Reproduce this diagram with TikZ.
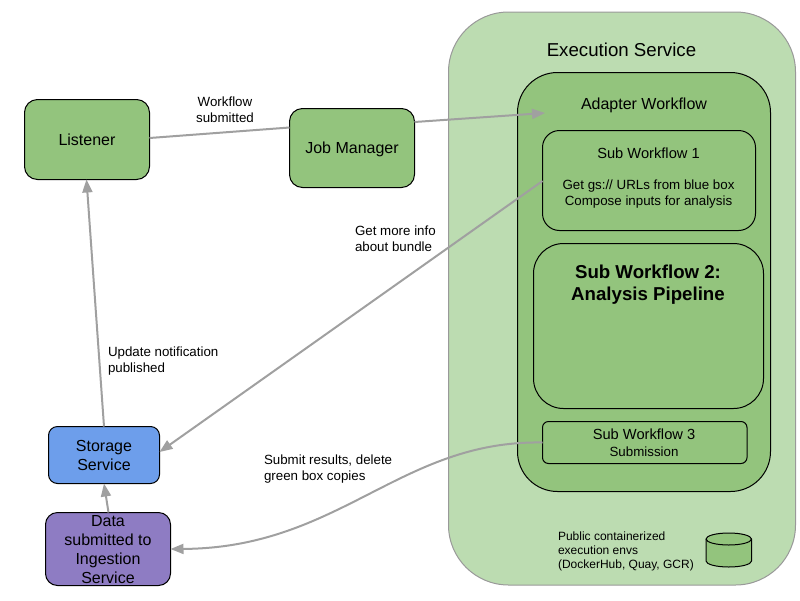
\documentclass[tikz,border=0pt]{standalone}
\usepackage{fontspec}
\setmainfont{Liberation Sans}
\usetikzlibrary{arrows.meta,calc,shapes.geometric}
\definecolor{execfill}{HTML}{BCDCB1}
\definecolor{greenfill}{HTML}{93C47D}
\definecolor{bluefill}{HTML}{6D9EEB}
\definecolor{purplefill}{HTML}{8E7CC3}
\definecolor{linkgray}{HTML}{A0A0A0}
\definecolor{execline}{HTML}{999999}
\tikzset{
  boxbase/.style={draw=black,line width=1pt,inner sep=0pt,outer sep=0pt,align=center,text=black},
  box/.style n args={3}{boxbase,minimum width=#1,minimum height=#2,rounded corners=#3},
  link/.style={draw=linkgray,line width=2pt},
  arrowlink/.style={link,-{Triangle[length=13pt,width=10pt]}},
  big/.style={font=\fontsize{16}{19}\selectfont},
  small/.style={font=\fontsize{13.33}{16}\selectfont},
  lbl/.style={inner sep=0pt,outer sep=0pt,align=left,text=black,small},
  mid/.style={inner sep=0pt,outer sep=0pt,align=center,text=black},
}
\begin{document}
\begin{tikzpicture}[x=1pt,y=-1pt]
\useasboundingbox (0,0) rectangle (800,600);
\node[box={347pt}{573pt}{60pt},draw=execline,fill=execfill,anchor=north west] (exec) at (448.5,12) {};
\node[box={253pt}{419pt}{40pt},fill=greenfill,anchor=north west] (adapter) at (517.5,72.5) {};
\node[box={213pt}{100pt}{17pt},fill=greenfill,anchor=north west] (sub1) at (542.5,130.5) {};
\node[box={230pt}{165pt}{30pt},fill=greenfill,anchor=north west] (sub2) at (533.5,243.5) {};
\node[box={204.5pt}{42pt}{6pt},fill=greenfill,anchor=north west] (sub3) at (542.5,421.5) {};
\node[box={125pt}{80pt}{13pt},fill=greenfill,anchor=north west,big] (listener) at (24.5,99.5) {Listener};
\node[box={125pt}{79pt}{13pt},fill=greenfill,anchor=north west,big,text depth=0pt] (job) at (289.5,108.5) {Job Manager};
\node[box={111pt}{57pt}{9pt},fill=bluefill,anchor=north west,big] (storage) at (48.5,426.5) {Storage\\Service};
\node[box={125pt}{73pt}{12pt},fill=purplefill,anchor=north west,big,text depth=0pt] (data) at (45.5,512.5) {Data\\submitted to\\Ingestion\\Service};
% database cylinder
\path[draw=black,line width=1pt,fill=greenfill] (706,539) -- (706,561) arc[start angle=180,end angle=0,x radius=22.75,y radius=6] -- (751.5,539) arc[start angle=0,end angle=-180,x radius=22.75,y radius=6] -- cycle;
\path[draw=black,line width=1pt] (706,539) arc[start angle=180,end angle=0,x radius=22.75,y radius=6];
% texts
\node[mid,font=\fontsize{18.67}{22}\selectfont] (exectitle) at (621.5,50) {Execution Service};
\node[mid,big] (adaptertitle) at (644,105.5) {Adapter Workflow};
\node[mid,font=\fontsize{14.67}{17}\selectfont] (sub1title) at (648.5,153) {Sub Workflow 1};
\node[mid,small] (sub1text) at (648.5,194.5) {Get gs:// URLs from blue box\\Compose inputs for analysis};
\node[mid,font=\bfseries\fontsize{18.67}{22.5}\selectfont] (sub2title) at (648,284.5) {Sub Workflow 2:\\Analysis Pipeline};
\node[mid,font=\fontsize{14.67}{17}\selectfont] (sub3title) at (644,434.5) {Sub Workflow 3};
\node[mid,small] (sub3text) at (644,451.5) {Submission};
\node[lbl,anchor=north west,font=\fontsize{12}{14}\selectfont] (envs) at (558,532) {Public containerized\\execution envs\\(DockerHub, Quay, GCR)};
\node[mid,anchor=north,small] (wfsub) at (225,97) {Workflow\\submitted};
\node[lbl,anchor=north west] (moreinfo) at (355,226) {Get more info\\about bundle};
\node[lbl,anchor=north west] (update) at (108,347) {Update notification\\published};
\node[lbl,anchor=north west] (submit) at (264,455) {Submit results, delete\\green box copies};
% connectors
\coordinate (adapterin) at (545,113);
\draw[link] ([yshift=1.5pt]listener.east) -- ([yshift=20.5pt]job.west);
\draw[arrowlink] ([yshift=26pt]job.east) -- (adapterin);
\draw[arrowlink] (storage.north) -- ([xshift=-0.5pt]listener.south);
\draw[arrowlink] ([yshift=-.5pt]sub1.west) -- ([yshift=3pt]storage.east);
\draw[arrowlink] ([xshift=0.5pt]data.north) -- (storage.south);
\draw[arrowlink] (sub3.west) .. controls (400,440) and (340,548) .. (data.east);
\end{tikzpicture}
\end{document}
